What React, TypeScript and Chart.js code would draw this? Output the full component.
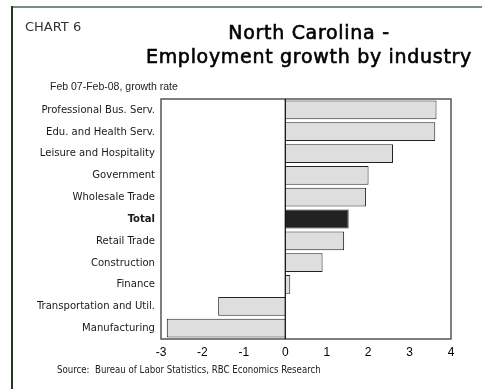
import React, { useEffect, useRef } from "react";
import { Chart, registerables } from "chart.js";

Chart.register(...registerables);

const categories = [
  "Professional Bus. Serv.",
  "Edu. and Health Serv.",
  "Leisure and Hospitality",
  "Government",
  "Wholesale Trade",
  "Total",
  "Retail Trade",
  "Construction",
  "Finance",
  "Transportation and Util.",
  "Manufacturing",
];
const growth = [3.65, 3.62, 2.6, 2.01, 1.95, 1.53, 1.42, 0.9, 0.12, -1.62, -2.86];
const highlight = "Total";
const xMin = -3;
const xMax = 4;

const framePlugin = {
  id: "frame",
  afterDatasetsDraw(chart: any) {
    const { ctx, chartArea } = chart;
    ctx.save();
    ctx.strokeStyle = "#555";
    ctx.lineWidth = 1.5;
    ctx.strokeRect(chartArea.left, chartArea.top, chartArea.right - chartArea.left, chartArea.bottom - chartArea.top);
    const x0 = chart.scales.x.getPixelForValue(0);
    ctx.strokeStyle = "#000";
    ctx.lineWidth = 1.2;
    ctx.beginPath();
    ctx.moveTo(x0, chartArea.top);
    ctx.lineTo(x0, chartArea.bottom);
    ctx.stroke();
    ctx.restore();
  },
};

export default function App() {
  const ref = useRef<HTMLCanvasElement>(null);
  useEffect(() => {
    const chart = new Chart(ref.current!, {
      type: "bar",
      data: {
        labels: categories,
        datasets: [
          {
            data: growth,
            backgroundColor: categories.map((c) => (c === highlight ? "#222222" : "#dedede")),
            borderColor: "#222",
            borderWidth: 1,
            barPercentage: 0.86,
            categoryPercentage: 1,
          },
        ],
      },
      options: {
        indexAxis: "y",
        animation: false,
        responsive: false,
        maintainAspectRatio: false,
        layout: { padding: { left: 20, top: 99, right: 31, bottom: 30 } },
        plugins: { legend: { display: false }, tooltip: { enabled: false }, title: { display: false } },
        scales: {
          x: {
            min: xMin,
            max: xMax,
            ticks: {
              stepSize: 1,
              color: "#000",
              padding: 6,
              font: { family: "'Liberation Sans', Arial, sans-serif", size: 12 },
            },
            grid: { display: false, drawTicks: false },
            border: { display: false },
            afterFit(scale: any) {
              scale.height = 20;
            },
          },
          y: {
            ticks: {
              color: "#1a1a1a",
              padding: 6,
              font: (ctx: any) => ({
                family: "'DejaVu Sans Condensed', 'DejaVu Sans', sans-serif",
                size: 11.2,
                weight: categories[ctx.index] === highlight ? "bold" : "normal",
              }),
            },
            grid: { display: false, drawTicks: false },
            border: { display: false },
            afterFit(scale: any) {
              scale.width = 141;
            },
          },
        },
      },
      plugins: [framePlugin],
    });
    return () => chart.destroy();
  }, []);

  const abs = (s: React.CSSProperties): React.CSSProperties => ({ position: "absolute", ...s });

  return (
    <div style={abs({ left: 0, top: 0, width: 482, height: 389, background: "#fff", overflow: "hidden" })}>
      <canvas ref={ref} width={482} height={389} style={abs({ left: 0, top: 0, width: 482, height: 389 })} />
      <div style={abs({ left: 11, top: 6, width: 471, height: 2, background: "#7d8d7d" })} />
      <div style={abs({ left: 11, top: 6, width: 1.5, height: 383, background: "#1e3a1e" })} />
      <div
        style={abs({
          left: 25,
          top: 19,
          fontFamily: "'DejaVu Sans', sans-serif",
          fontSize: 13,
          color: "#333",
          whiteSpace: "nowrap",
        })}
      >
        CHART 6
      </div>
      <div
        style={abs({
          left: 120,
          top: 20,
          width: 378,
          textAlign: "center",
          fontFamily: "'DejaVu Sans', sans-serif",
          fontWeight: "normal",
          fontSize: 19,
          letterSpacing: "0.7px",
          lineHeight: "24px",
          color: "#000",
          WebkitTextStroke: "0.6px #000",
        })}
      >
        North Carolina -<br />
        Employment growth by industry
      </div>
      <div
        style={abs({
          left: 50,
          top: 80,
          fontFamily: "'Liberation Sans', Arial, sans-serif",
          fontSize: 10.5,
          color: "#222",
          whiteSpace: "nowrap",
        })}
      >
        Feb 07-Feb-08, growth rate
      </div>
      <div
        style={abs({
          left: 57,
          top: 364,
          fontFamily: "'DejaVu Sans Condensed', 'DejaVu Sans', sans-serif",
          fontSize: 9.6,
          color: "#222",
          whiteSpace: "nowrap",
        })}
      >
        Source:&nbsp; Bureau of Labor Statistics, RBC Economics Research
      </div>
    </div>
  );
}
